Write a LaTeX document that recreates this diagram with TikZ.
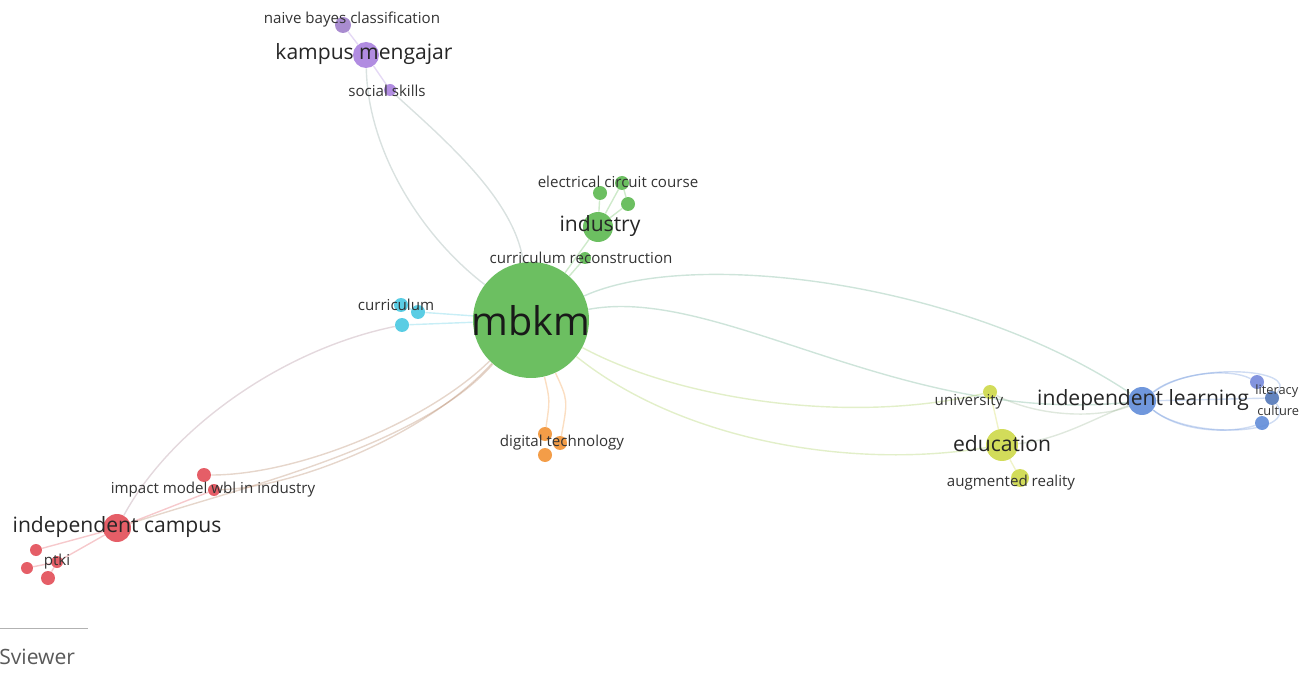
\documentclass[tikz,border=0pt]{standalone}
\usepackage{fontspec}
\setmainfont{Open Sans}
\pgfdeclarelayer{edges}
\pgfsetlayers{edges,main}
\definecolor{cgreen}{RGB}{92,184,80}
\definecolor{cpurple}{RGB}{168,128,222}
\definecolor{ccyan}{RGB}{72,200,225}
\definecolor{corange}{RGB}{242,146,52}
\definecolor{cblue}{RGB}{96,140,216}
\definecolor{cyellow}{RGB}{205,216,72}
\definecolor{cred}{RGB}{226,76,86}
\tikzset{
  bub/.style={circle, inner sep=0pt, minimum size=#1*0.4mm, fill opacity=0.9},
  smalllbl/.style={font=\fontsize{8.6}{10}\selectfont, text=black!80, inner sep=0pt},
  midlbl/.style={font=\fontsize{12}{14}\selectfont, text=black!85, inner sep=0pt},
  link/.style={line width=0.8pt, draw opacity=0.3},
}
\begin{document}
\begin{tikzpicture}[x=0.02cm,y=-0.02cm]
    \useasboundingbox (0,0) rectangle (1304,675);

        %%mbkm
        \node[bub=58, fill=cgreen] (mbkm) at (531,320) {};
        %%industry
        \node[bub=15, fill=cgreen] (industry) at (598,227) {};
        \node[bub=7, fill=cgreen] (elec1) at (600,193) {};
        \node[bub=7, fill=cgreen] (elec2) at (622,183) {};
        \node[bub=7, fill=cgreen] (elec3) at (628,204) {};
        \node[bub=6, fill=cgreen] (currec) at (585,258) {};
        %%kampus mengajar
        \node[bub=13, fill=cpurple] (kampus) at (366,55) {};
        \node[bub=8, fill=cpurple!80!gray] (naive) at (343,25) {};
        \node[bub=6, fill=cpurple] (social) at (390,90) {};
        %%curriculum
        \node[bub=7, fill=ccyan] (cur1) at (401,305) {};
        \node[bub=7, fill=ccyan] (cur2) at (418,312) {};
        \node[bub=7, fill=ccyan] (cur3) at (402,325) {};
        %%digital technology
        \node[bub=7, fill=corange] (dig1) at (545,434) {};
        \node[bub=7, fill=corange] (dig2) at (560,443) {};
        \node[bub=7, fill=corange] (dig3) at (545,455) {};
        %%education
        \node[bub=7, fill=cyellow] (univ) at (990,392) {};
        \node[bub=16, fill=cyellow] (educ) at (1002,445) {};
        \node[bub=9, fill=cyellow] (aug) at (1020,478) {};
        %%independent learning
        \node[bub=14, fill=cblue] (indlearn) at (1142,401) {};
        \node[bub=7, fill=cblue!70!cpurple] (lit1) at (1257,382) {};
        \node[bub=7, fill=cblue!85!black] (lit2) at (1272,398) {};
        \node[bub=7, fill=cblue] (lit3) at (1262,423) {};
        %%independent campus
        \node[bub=14, fill=cred] (indcampus) at (117,528) {};
        \node[bub=7, fill=cred] (imp1) at (204,475) {};
        \node[bub=6, fill=cred] (imp2) at (214,490) {};
        \node[bub=6, fill=cred] (pt1) at (36,550) {};
        \node[bub=6, fill=cred] (pt2) at (27,568) {};
        \node[bub=7, fill=cred] (pt3) at (48,578) {};
        \node[bub=6, fill=cred] (pt4) at (57,562) {};

    \begin{pgfonlayer}{edges}
        %%kampus mengajar
        \draw[link, cpurple!50!cgreen] (kampus) .. controls (368,150) and (420,235) .. (mbkm);
        \draw[link, cpurple!50!cgreen] (social) .. controls (445,140) and (515,200) .. (mbkm);
        \draw[link, cpurple] (naive) -- (kampus);
        \draw[link, cpurple] (kampus) -- (social);
        %%industry
        \draw[link, cgreen] (industry) -- (mbkm);
        \draw[link, cgreen] (elec1) -- (industry);
        \draw[link, cgreen] (elec2) -- (industry);
        \draw[link, cgreen] (elec3) -- (industry);
        \draw[link, cgreen] (elec2) -- (elec3);
        \draw[link, cgreen] (currec) -- (mbkm);
        %%curriculum
        \draw[link, ccyan] (cur2) -- (mbkm);
        \draw[link, ccyan] (cur3) -- (mbkm);
        \draw[link, ccyan] (cur1) -- (cur2);
        %%independent learning, education
        \draw[link, cblue!40!cgreen] (mbkm) .. controls (690,248) and (960,280) .. (indlearn);
        \draw[link, cblue!40!cgreen] (mbkm) .. controls (720,285) and (900,425) .. (indlearn);
        \draw[link, cyellow!60!cgreen] (mbkm) .. controls (680,400) and (850,425) .. (univ);
        \draw[link, cyellow!60!cgreen] (mbkm) .. controls (680,440) and (850,470) .. (educ);
        \draw[link, cblue!50!cyellow] (educ) .. controls (1060,440) and (1100,415) .. (indlearn);
        \draw[link, cblue!50!cyellow] (univ) .. controls (1040,418) and (1100,418) .. (indlearn);
        \draw[link, cyellow] (univ) -- (educ);
        \draw[link, cyellow] (educ) -- (aug);
        \draw[link, cblue] (indlearn) .. controls (1180,372) and (1230,368) .. (lit1);
        \draw[link, cblue] (indlearn) -- (lit2);
        \draw[link, cblue] (indlearn) .. controls (1180,432) and (1230,434) .. (lit3);
        \draw[link, cblue] (indlearn) .. controls (1190,362) and (1300,368) .. (lit2);
        \draw[link, cblue] (indlearn) .. controls (1190,440) and (1300,435) .. (lit2);
        %%digital technology
        \draw[link, corange] (dig1) .. controls (550,400) .. (mbkm);
        \draw[link, corange] (dig2) .. controls (568,400) .. (mbkm);
        %%independent campus
        \draw[link, cred!60!ccyan] (cur3) .. controls (280,350) and (170,430) .. (indcampus);
        \draw[link, cred!60!cgreen] (mbkm) .. controls (430,420) and (300,475) .. (imp1);
        \draw[link, cred!60!cgreen] (mbkm) .. controls (430,432) and (300,487) .. (imp2);
        \draw[link, cred!60!cgreen] (mbkm) .. controls (420,448) and (230,490) .. (indcampus);
        \draw[link, cred] (imp2) -- (indcampus);
        \draw[link, cred] (pt1) -- (indcampus);
        \draw[link, cred] (pt4) -- (indcampus);
        \draw[link, cred] (pt2) -- (pt4);
        \draw[link, cred] (pt3) -- (pt4);
    \end{pgfonlayer}

        %%labels
        \node[font=\fontsize{22.5}{26}\selectfont, text=black!90, inner sep=0pt] (mbkmlbl) at (531,321) {mbkm};
        \node[midlbl] (industrylbl) at (600,226) {industry};
        \node[smalllbl] (eleclbl) at (618,182) {electrical circuit course};
        \node[smalllbl] (curreclbl) at (581,258) {curriculum reconstruction};
        \node[midlbl] (kampuslbl) at (364,54) {kampus mengajar};
        \node[smalllbl] (naivelbl) at (352,20) {naive bayes classification};
        \node[smalllbl] (sociallbl) at (387,91) {social skills};
        \node[smalllbl] (curlbl) at (396,305) {curriculum};
        \node[smalllbl] (diglbl) at (562,443) {digital technology};
        \node[smalllbl] (univlbl) at (969,402) {university};
        \node[midlbl] (educlbl) at (1002,444) {education};
        \node[smalllbl] (auglbl) at (1011,483) {augmented reality};
        \node[midlbl] (indlearnlbl) at (1143,400) {independent learning};
        \node[smalllbl, font=\fontsize{7.3}{8}\selectfont, anchor=west] (litlbl) at (1255,391) {literacy};
        \node[smalllbl, font=\fontsize{7.3}{8}\selectfont, anchor=west] (cultlbl) at (1257,411) {culture};
        \node[midlbl] (indcampuslbl) at (117,527) {independent campus};
        \node[smalllbl] (implbl) at (213,490) {impact model wbl in industry};
        \node[smalllbl] (ptkilbl) at (57,562) {ptki};

        %%logo
        \draw[black!30] (0,628) -- (88,628);
        \node[font=\fontsize{12}{14}\selectfont, text=black!65, inner sep=0pt, anchor=west] (logo) at (-1,657) {Sviewer};
\end{tikzpicture}
\end{document}
